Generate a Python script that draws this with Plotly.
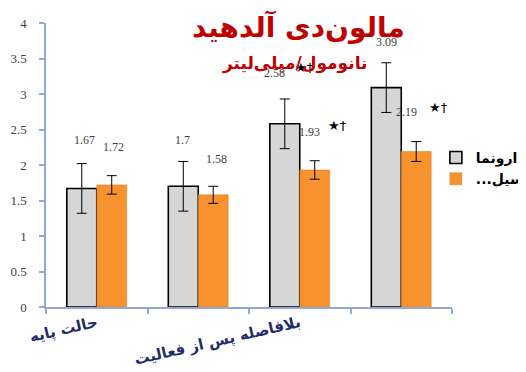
import plotly.graph_objects as go

# data
category_labels = ["حالت پایه", "", "بلافاصله پس از فعالیت", ""]
series_names = ["دارونما", "...سیل"]
placebo = [1.67, 1.7, 2.58, 3.09]
placebo_err = [0.35, 0.35, 0.35, 0.35]
drug = [1.72, 1.58, 1.93, 2.19]
drug_err = [0.13, 0.12, 0.13, 0.14]
placebo_sig = ["", "", "★†", ""]
drug_sig = ["", "", "★†", "★†"]

x = list(range(len(placebo)))
label_font = dict(family="Liberation Serif", size=12, color="#404040")

fig = go.Figure()
fig.add_trace(go.Bar(
    x=x, y=placebo, name=series_names[0],
    marker=dict(color="#D6D6D6", line=dict(color="#000000", width=1.6)),
    error_y=dict(type="data", array=placebo_err, color="#000000", thickness=1, width=5),
))
fig.add_trace(go.Bar(
    x=x, y=drug, name=series_names[1],
    marker=dict(color="#F7922F", line=dict(color="#E07A1C", width=0.5)),
    error_y=dict(type="data", array=drug_err, color="#000000", thickness=1, width=5),
))

# value labels (offsets in px, as moved by hand in the original)
p_shift = [(2, 48), (-1, 46), (-11, 51), (0, 46)]
d_shift = [(2, 38), (4, 36), (-5, 38), (-9, 40)]
for i in x:
    fig.add_annotation(x=i - 0.145, y=placebo[i], text=f"{placebo[i]:g}", showarrow=False,
                       xshift=p_shift[i][0], yshift=p_shift[i][1], font=label_font)
    fig.add_annotation(x=i + 0.145, y=drug[i], text=f"{drug[i]:g}", showarrow=False,
                       xshift=d_shift[i][0], yshift=d_shift[i][1], font=label_font)
    if placebo_sig[i]:
        fig.add_annotation(x=i - 0.145, y=placebo[i], text=placebo_sig[i], showarrow=False,
                           xshift=19, yshift=56, font=dict(family="DejaVu Sans", size=13, color="#000"))
    if drug_sig[i]:
        fig.add_annotation(x=i + 0.145, y=drug[i], text=drug_sig[i], showarrow=False,
                           xshift=23, yshift=44, font=dict(family="DejaVu Sans", size=13, color="#000"))

# titles
fig.add_annotation(xref="paper", yref="paper", x=0.621, y=0.986,
                   xanchor="center", yanchor="middle", text="<b>مالون‌دی آلدهید</b>",
                   showarrow=False, font=dict(family="DejaVu Sans", size=28, color="#C00000"))
fig.add_annotation(xref="paper", yref="paper", x=0.613, y=0.859,
                   xanchor="center", yanchor="middle", text="<b>نانومول/میلی‌لیتر</b>",
                   showarrow=False, font=dict(family="DejaVu Sans", size=17, color="#C00000"))

axis_blue = "#8EA9DB"
# page body has an 8px margin, so the figure is 8px smaller than the window
fig.update_layout(
    width=518, height=364,
    margin=dict(l=38, r=74, t=15, b=65, autoexpand=False),
    paper_bgcolor="white", plot_bgcolor="white",
    barmode="group", bargap=0.41, bargroupgap=0,
    showlegend=True,
    legend=dict(xref="container", yref="container", x=0.826, xanchor="left",
                y=0.632, yanchor="top",
                font=dict(family="DejaVu Sans", size=14, color="#000", weight="bold"),
                itemwidth=30, tracegroupgap=0, bgcolor="rgba(0,0,0,0)"),
    xaxis=dict(
        range=[-0.5, 3.5], showgrid=False, zeroline=False, automargin=False,
        showline=True, linecolor=axis_blue, linewidth=1.5,
        tickvals=[i for i in x if category_labels[i]],
        ticktext=[c for c in category_labels if c],
        ticks="", tickangle=-13,
        tickfont=dict(family="DejaVu Sans", size=15, color="#1F2D6B", weight="bold"),
        minor=dict(tickvals=[i - 0.5 for i in range(len(x) + 1)], ticks="outside",
                   ticklen=5, tickcolor=axis_blue, tickwidth=1.5),
    ),
    yaxis=dict(
        range=[0, 4], dtick=0.5, showgrid=False, zeroline=False, automargin=False,
        showline=True, linecolor=axis_blue, linewidth=1.5,
        ticks="outside", ticklen=5, tickcolor=axis_blue, tickwidth=1.5,
        ticklabelstandoff=10,
        tickfont=dict(family="Liberation Serif", size=13, color="#404040"),
    ),
)

fig.write_html("out.html")
